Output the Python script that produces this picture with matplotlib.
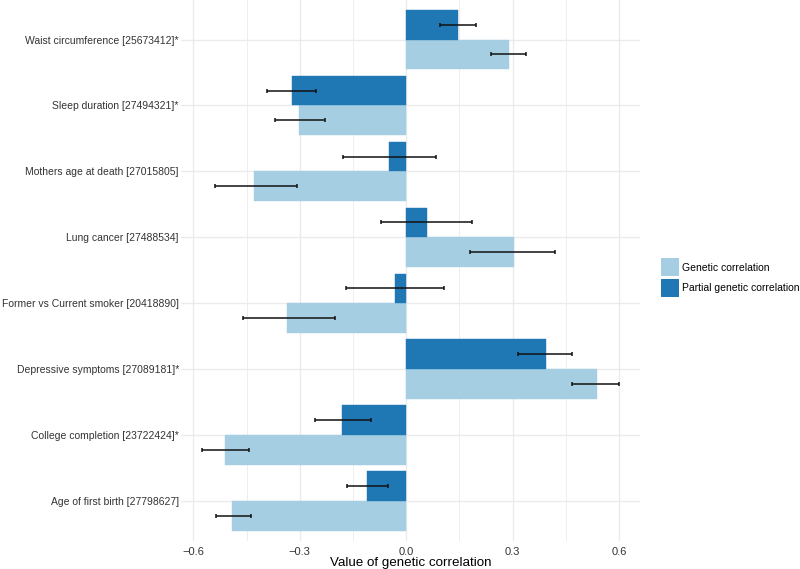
import matplotlib
matplotlib.use("Agg")
import matplotlib.pyplot as plt
from matplotlib.patches import Patch
import numpy as np

plt.rcParams['font.family'] = ['Liberation Sans', 'DejaVu Sans']

categories = [
    "Age of first birth [27798627]",
    "College completion [23722424]*",
    "Depressive symptoms [27089181]*",
    "Former vs Current smoker [20418890]",
    "Lung cancer [27488534]",
    "Mothers age at death [27015805]",
    "Sleep duration [27494321]*",
    "Waist circumference [25673412]*",
]

genetic = [-0.491, -0.511, 0.537, -0.336, 0.303, -0.430, -0.301, 0.290]
genetic_lo = [-0.537, -0.575, 0.467, -0.459, 0.179, -0.539, -0.369, 0.240]
genetic_hi = [-0.439, -0.443, 0.600, -0.202, 0.419, -0.308, -0.228, 0.338]

partial = [-0.110, -0.180, 0.394, -0.032, 0.058, -0.049, -0.323, 0.145]
partial_lo = [-0.168, -0.257, 0.316, -0.171, -0.070, -0.179, -0.393, 0.094]
partial_hi = [-0.052, -0.100, 0.467, 0.107, 0.185, 0.083, -0.254, 0.197]

series_names = ["Genetic correlation", "Partial genetic correlation"]
colors = ["#A6CEE3", "#1F78B4"]

fig = plt.figure(figsize=(8, 5.69), dpi=100)
ax = fig.add_axes([181.4 / 800, 1 - 540.5 / 569, (640 - 181.4) / 800, 540.5 / 569])

y = np.arange(len(categories))
h = 0.45
off = 0.225

g = np.array(genetic); p = np.array(partial)
ax.barh(y - off, g, height=h, color=colors[0], zorder=2, edgecolor=colors[0], linewidth=0.3)
ax.barh(y + off, p, height=h, color=colors[1], zorder=2, edgecolor=colors[1], linewidth=0.3)

g_err = [g - np.array(genetic_lo), np.array(genetic_hi) - g]
p_err = [p - np.array(partial_lo), np.array(partial_hi) - p]
ax.errorbar(g, y - off, xerr=g_err, fmt='none', ecolor='#111111', elinewidth=1.1,
            capsize=1.6, capthick=1.1, zorder=3)
ax.errorbar(p, y + off, xerr=p_err, fmt='none', ecolor='#111111', elinewidth=1.1,
            capsize=1.6, capthick=1.1, zorder=3)

lo = min(min(genetic_lo), min(partial_lo), 0)
hi = max(max(genetic_hi), max(partial_hi), 0)
span = hi - lo
ax.set_xlim(lo - 0.05 * span, hi + 0.05 * span)
ax.set_ylim(-0.6, len(categories) - 1 + 0.6)

ax.set_xticks([-0.6, -0.3, 0.0, 0.3, 0.6])
ax.set_xticklabels(["\u22120.6", "\u22120.3", "0.0", "0.3", "0.6"])
ax.set_xticks([-0.45, -0.15, 0.15, 0.45], minor=True)
ax.set_yticks(y)
ax.set_yticklabels(categories)

ax.grid(True, which='major', color='#EBEBEB', linewidth=1.0, zorder=0)
ax.grid(True, which='minor', axis='x', color='#EBEBEB', linewidth=0.6, zorder=0)
ax.set_axisbelow(True)
for s in ax.spines.values():
    s.set_visible(False)
ax.tick_params(axis='both', which='both', length=0)
ax.tick_params(axis='y', pad=1.8, labelsize=7.5, labelcolor='#333333')
ax.tick_params(axis='x', pad=4.5, labelsize=8, labelcolor='#333333')
ax.set_xlabel("Value of genetic correlation", fontsize=9.6, labelpad=0.3, color='black')

handles = [Patch(facecolor=colors[0], edgecolor='none'), Patch(facecolor=colors[1], edgecolor='none')]
fig.legend(handles, series_names, loc='center left', bbox_to_anchor=(661 / 800, 1 - 277.5 / 569),
           frameon=False, fontsize=7.5, handlelength=1.76, handleheight=2.33,
           handletextpad=0.3, labelspacing=0.2, borderpad=0, borderaxespad=0)

fig.savefig("out.png", dpi=100)
